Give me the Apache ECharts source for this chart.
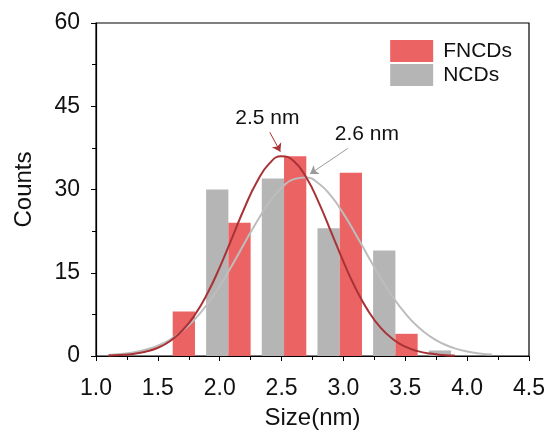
<!DOCTYPE html>
<html>
<head>
<meta charset="utf-8">
<script src="https://cdn.jsdelivr.net/npm/echarts@6/dist/echarts.min.js"></script>
<style>html,body{margin:0;padding:0;background:#fff}#c{width:550px;height:435px}</style>
</head>
<body>
<div id="c"></div>
<script>
// Histogram bins (bin centres, nm) and counts
const fncdsCenters = [1.71, 2.16, 2.61, 3.06, 3.51];
const fncdsCounts  = [8, 24, 36, 33, 4];
const ncdsCenters  = [1.98, 2.43, 2.88, 3.33, 3.78];
const ncdsCounts   = [30, 32, 23, 19, 1];

// Fitted curves
const curveX = [1.1,1.2,1.3,1.4,1.5,1.6,1.7,1.8,1.9,2.0,2.1,2.2,2.3,2.4,2.5,2.6,2.7,2.8,2.9,3.0,3.1,3.2,3.3,3.4,3.5,3.6,3.7,3.8,3.9,4.0,4.1,4.2];
const fncdsFit = [0.07,0.17,0.37,0.77,1.48,2.71,4.63,7.45,11.25,15.97,21.29,26.67,31.36,34.66,36.0,35.1,32.16,27.68,22.38,17.0,12.13,8.13,5.12,3.03,1.68,0.88,0.43,0.2,0.08];
const ncdsFit  = [0.19,0.36,0.65,1.12,1.86,2.96,4.54,6.65,9.36,12.64,16.36,20.32,24.2,27.66,30.32,31.87,32.14,31.09,28.84,25.66,21.91,17.94,14.08,10.61,7.67,5.31,3.53,2.25,1.38,0.81,0.45,0.25];

const xTicks = ['1.0','1.5','2.0','2.5','3.0','3.5','4.0','4.5'];
const yTicks = [0, 15, 30, 45, 60];

const BIN_W = 0.18;
const RED = '#EC6363', GRAY = '#B5B5B5', RED_LINE = '#A93236', GRAY_LINE = '#BDBDBD';
const FONT = 'Arial, "Liberation Sans", sans-serif';

function pair(xs, ys){ return ys.map((y,i)=>[xs[i], y]); }
function barRender(color){
  return function(params, api){
    const x = api.value(0), y = api.value(1);
    const p0 = api.coord([x - BIN_W/2, y]);
    const p1 = api.coord([x + BIN_W/2, 0]);
    return {type:'rect', shape:{x:p0[0], y:p0[1], width:p1[0]-p0[0], height:p1[1]-p0[1]}, style:{fill:color}};
  };
}

const chart = echarts.init(document.getElementById('c'), null, {renderer:'canvas'});
chart.setOption({
  animation:false,
  textStyle:{fontFamily:FONT},
  grid:{left:96, right:21, top:23, bottom:77, show:true, borderColor:'#000', borderWidth:1.2, backgroundColor:'transparent'},
  legend:{
    right:38, top:40, orient:'vertical', padding:0, itemWidth:43, itemHeight:22, itemGap:2,
    textStyle:{fontSize:21, color:'#111', fontFamily:FONT, padding:[0,0,0,5]},
    data:[{name:'FNCDs', icon:'rect'},{name:'NCDs', icon:'rect'}]
  },
  xAxis:{
    type:'value', min:1.0, max:4.5, interval:0.5,
    name:'Size(nm)', nameLocation:'middle', nameGap:50,
    nameTextStyle:{fontSize:24, color:'#111', fontFamily:FONT},
    axisLine:{lineStyle:{color:'#000', width:1.2}},
    axisTick:{show:true, inside:false, length:5, lineStyle:{color:'#000'}},
    minorTick:{show:true, splitNumber:2, length:4, lineStyle:{color:'#000'}},
    splitLine:{show:false},
    axisLabel:{fontSize:23, color:'#111', margin:21, formatter:(v)=>xTicks[Math.round((v-1)/0.5)]}
  },
  yAxis:{
    type:'value', min:0, max:60, interval:15,
    name:'Counts', nameLocation:'middle', nameGap:60, nameRotate:90,
    nameTextStyle:{fontSize:24, color:'#111', fontFamily:FONT},
    axisLine:{show:true, lineStyle:{color:'#000', width:1.2}},
    axisTick:{show:true, inside:false, length:5, lineStyle:{color:'#000'}},
    minorTick:{show:true, splitNumber:2, length:4, lineStyle:{color:'#000'}},
    splitLine:{show:false},
    axisLabel:{fontSize:23, color:'#111', margin:16, formatter:(v)=>String(yTicks[Math.round(v/15)])}
  },
  series:[
    {name:'NCDs', type:'custom', renderItem:barRender(GRAY), itemStyle:{color:GRAY},
     encode:{x:0,y:1}, data:pair(ncdsCenters, ncdsCounts), z:2},
    {name:'FNCDs', type:'custom', renderItem:barRender(RED), itemStyle:{color:RED},
     encode:{x:0,y:1}, data:pair(fncdsCenters, fncdsCounts), z:2},
    {name:'NCDs fit', type:'line', smooth:true, showSymbol:false, symbol:'none',
     lineStyle:{color:GRAY_LINE, width:2}, data:pair(curveX, ncdsFit), z:3,
     markLine:{silent:true, symbol:['none','arrow'], symbolSize:8, label:{show:false},
       lineStyle:{color:'#9a9a9a', width:1, type:'solid'},
       data:[[{coord:[3.035, 37.4]},{coord:[2.73, 32.8]}]]},
     markPoint:{symbol:'circle', symbolSize:0,
       label:{show:true, formatter:'2.6 nm', fontSize:21, color:'#111', fontFamily:FONT, position:'inside'},
       data:[{coord:[3.19, 40.0]}]}},
    {name:'FNCDs fit', type:'line', smooth:true, showSymbol:false, symbol:'none',
     lineStyle:{color:RED_LINE, width:2}, data:pair(curveX, fncdsFit), z:4,
     markLine:{silent:true, symbol:['none','arrow'], symbolSize:8, label:{show:false},
       lineStyle:{color:RED_LINE, width:1, type:'solid'},
       data:[[{coord:[2.405, 40.3]},{coord:[2.49, 36.8]}]]},
     markPoint:{symbol:'circle', symbolSize:0,
       label:{show:true, formatter:'2.5 nm', fontSize:21, color:'#111', fontFamily:FONT, position:'inside'},
       data:[{coord:[2.385, 42.8]}]}}
  ]
});
</script>
</body>
</html>
